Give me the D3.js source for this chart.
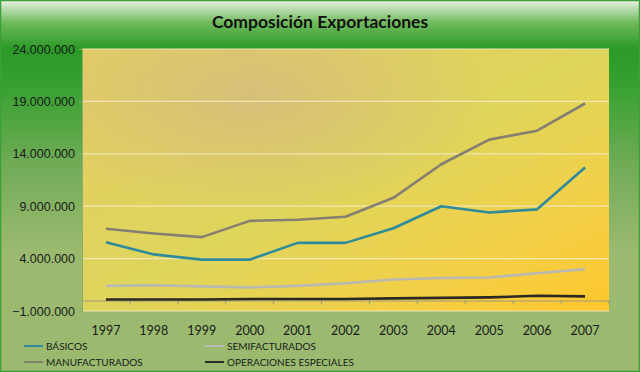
<!DOCTYPE html>
<html>
<head>
<meta charset="utf-8">
<script src="https://cdn.jsdelivr.net/npm/d3@7"></script>
<style>
  body{margin:0;background:#fff;}
  svg{display:block;font-family:Lato,"Open Sans",sans-serif;}
</style>
</head>
<body>
<div id="chart"></div>
<script>
const years=["1997","1998","1999","2000","2001","2002","2003","2004","2005","2006","2007"];
const basicos=[5550000,4400000,3900000,3900000,5500000,5500000,6900000,9000000,8400000,8700000,12700000];
const semifacturados=[1400000,1450000,1350000,1250000,1400000,1650000,2000000,2150000,2200000,2600000,3000000];
const manufacturados=[6850000,6400000,6050000,7600000,7700000,8000000,9800000,13000000,15350000,16200000,18800000];
const especiales=[100000,100000,100000,150000,150000,150000,200000,250000,300000,450000,400000];
const yTicks=[-1000000,4000000,9000000,14000000,19000000,24000000];

const seriesNames=["BÁSICOS","SEMIFACTURADOS","MANUFACTURADOS","OPERACIONES ESPECIALES"];
const seriesData=[basicos,semifacturados,manufacturados,especiales];
const seriesColors=["#2f8a9c","#b9b9b2","#857f72","#2b2a22"];

const w=640,h=372;
const m={top:49,right:31,bottom:61,left:82};

const svg=d3.select("#chart").append("svg").attr("width",w).attr("height",h);
const defs=svg.append("defs");

// outer background
const bg=defs.append("linearGradient").attr("id","bg").attr("x1",0).attr("y1",0).attr("x2",0).attr("y2",1);
bg.append("stop").attr("offset","0").attr("stop-color","#e6f2e0");
bg.append("stop").attr("offset","0.06").attr("stop-color","#6fba5c");
bg.append("stop").attr("offset","0.13").attr("stop-color","#2b9a27");
bg.append("stop").attr("offset","0.22").attr("stop-color","#35a02f");
bg.append("stop").attr("offset","0.45").attr("stop-color","#72ac58");
bg.append("stop").attr("offset","0.68").attr("stop-color","#9bba6f");
bg.append("stop").attr("offset","1").attr("stop-color","#9bba6f");

svg.append("rect").attr("x",0.5).attr("y",0.5).attr("width",w-1).attr("height",h-1)
  .attr("fill","url(#bg)").attr("stroke","#3aa136").attr("stroke-width",1.5);

// plot gradient
const pg=defs.append("linearGradient").attr("id","pg").attr("x1",0).attr("y1",0).attr("x2",1).attr("y2",1);
pg.append("stop").attr("offset","0").attr("stop-color","#e4cd62");
pg.append("stop").attr("offset","0.5").attr("stop-color","#ded55c");
pg.append("stop").attr("offset","0.8").attr("stop-color","#f4cf45");
pg.append("stop").attr("offset","1").attr("stop-color","#ffc72c");
const rg=defs.append("radialGradient").attr("id","rg").attr("cx","0.32").attr("cy","0.18").attr("r","0.45");
rg.append("stop").attr("offset","0").attr("stop-color","#d6bd7c").attr("stop-opacity",0.9);
rg.append("stop").attr("offset","1").attr("stop-color","#d6bd7c").attr("stop-opacity",0);

const iw=w-m.left-m.right, ih=h-m.top-m.bottom;
const g=svg.append("g").attr("transform",`translate(${m.left},${m.top})`);
g.append("rect").attr("width",iw).attr("height",ih).attr("fill","url(#pg)");
g.append("rect").attr("width",iw).attr("height",ih).attr("fill","url(#rg)");

const x=d3.scaleBand().domain(years).range([0,iw]);
const y=d3.scaleLinear().domain([-1000000,24000000]).range([ih,0]);

const fmt=v=>d3.format(",")(v).replace(/,/g,".");

// gridlines
g.append("g").selectAll("line").data(yTicks).join("line")
  .attr("x1",0).attr("x2",iw).attr("y1",d=>y(d)).attr("y2",d=>y(d))
  .attr("stroke","#f0e6b4").attr("stroke-width",1.2);

// y axis
const yAxis=g.append("g").call(d3.axisLeft(y).tickValues(yTicks).tickFormat(fmt).tickSize(3).tickPadding(4));
yAxis.select(".domain").attr("stroke","#8fae6a");
yAxis.selectAll(".tick line").attr("stroke","#8fae6a");
yAxis.selectAll("text").attr("fill","#1a1a1a").style("font-size","12.5px");

// x axis at zero
const xAxis=g.append("g").attr("transform",`translate(0,${y(0)})`)
  .call(d3.axisBottom(x).tickSize(0).tickFormat(""));
xAxis.select(".domain").attr("stroke","#9a9a80");
g.append("g").selectAll("line").data(years.slice(1).concat(["end"])).join("line")
  .attr("x1",(d,i)=>x.step()*(i+1)).attr("x2",(d,i)=>x.step()*(i+1))
  .attr("y1",y(0)).attr("y2",y(0)+4).attr("stroke","#9a9a80");

g.append("g").selectAll("text").data(years).join("text")
  .attr("x",d=>x(d)+x.bandwidth()/2).attr("y",ih+24)
  .attr("text-anchor","middle").attr("fill","#1a1a1a").style("font-size","12.5px")
  .text(d=>d);

// lines
const line=d3.line().x((d,i)=>x(years[i])+x.bandwidth()/2).y(d=>y(d));
const drawOrder=[3,1,2,0];
drawOrder.forEach(k=>{
  g.append("path").datum(seriesData[k]).attr("fill","none")
    .attr("stroke",seriesColors[k]).attr("stroke-width",2.6)
    .attr("stroke-linejoin","round").attr("d",line);
});

// title
svg.append("text").attr("x",320).attr("y",28).attr("text-anchor","middle")
  .attr("fill","#111").style("font-size","17.5px").style("font-weight","bold")
  .text("Composición Exportaciones");

// legend
const legPos=[[24,346],[205,346],[24,362],[205,362]];
const leg=svg.append("g").selectAll("g").data(seriesNames).join("g")
  .attr("transform",(d,i)=>`translate(${legPos[i][0]},${legPos[i][1]})`);
leg.append("line").attr("x1",0).attr("x2",19).attr("y1",0).attr("y2",0)
  .attr("stroke",(d,i)=>seriesColors[i]).attr("stroke-width",2);
leg.append("text").attr("x",22).attr("y",4).attr("fill","#1a1a1a")
  .style("font-size","10px").text(d=>d);
</script>
</body>
</html>
